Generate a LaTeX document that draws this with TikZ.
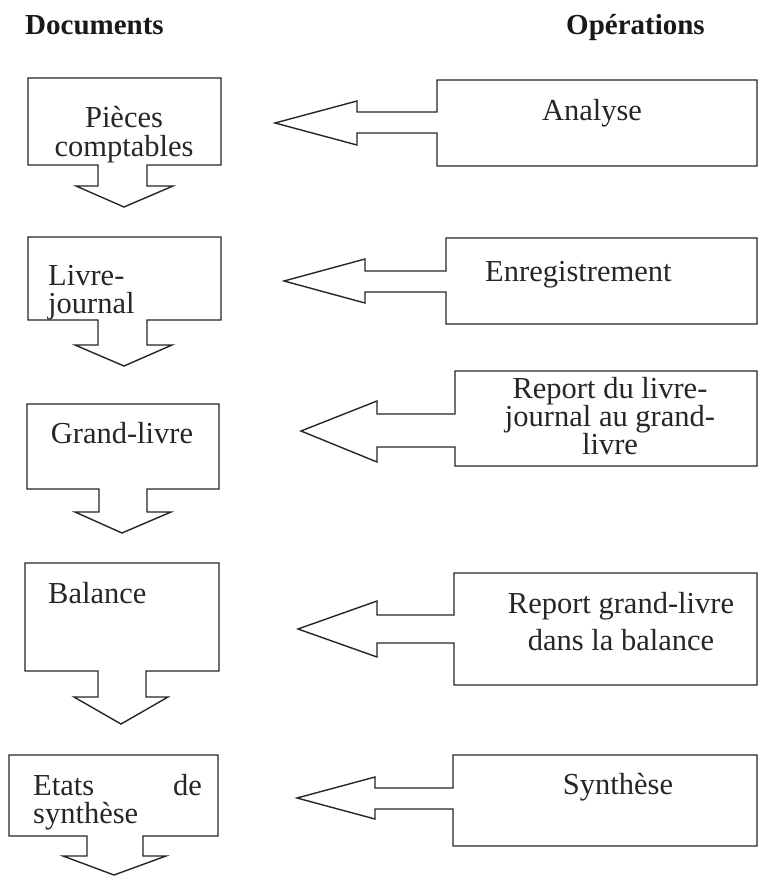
\documentclass[tikz,border=0pt]{standalone}
\usepackage{fontspec}
\setmainfont{Liberation Serif}
\begin{document}
\begin{tikzpicture}[x=1pt,y=-1pt,
  outline/.style={line width=1.4pt, draw=black!85, line join=miter},
  txt/.style={inner sep=0pt, font=\fontsize{30.5}{28.5}\selectfont, text=black!85},
  head/.style={inner sep=0pt, font=\fontsize{29}{32}\selectfont\bfseries, text=black!90}]
\useasboundingbox (0,0) rectangle (760,885);
\fill[white] (0,0) rectangle (760,885);

% column headings
\node[head, anchor=base west] (hdoc) at (25,35) {Documents};
\node[head, anchor=base west] (hop) at (566,35) {Opérations};

% documents: boxes with a downward arrow below
\draw[outline] (28,78) -- (221,78) -- (221,165) -- (147,165) -- (147,186) -- (173,186)
  -- (124,207) -- (76,186) -- (98,186) -- (98,165) -- (28,165) -- cycle;
\draw[outline] (28,237) -- (221,237) -- (221,320) -- (147,320) -- (147,345) -- (172,345)
  -- (124,366) -- (75,345) -- (98,345) -- (98,320) -- (28,320) -- cycle;
\draw[outline] (27,404) -- (219,404) -- (219,489) -- (147,489) -- (147,512) -- (171,512)
  -- (122,533) -- (75,512) -- (99,512) -- (99,489) -- (27,489) -- cycle;
\draw[outline] (25,563) -- (219,563) -- (219,671) -- (146,671) -- (146,697) -- (168,697)
  -- (121,724) -- (74,697) -- (98,697) -- (98,671) -- (25,671) -- cycle;
\draw[outline] (9,755) -- (218,755) -- (218,836) -- (143,836) -- (143,856) -- (166,856)
  -- (114,875) -- (63,856) -- (87,856) -- (87,836) -- (9,836) -- cycle;

% operations: boxes with a leftward arrow
\draw[outline] (437,80) -- (757,80) -- (757,166) -- (437,166) -- (437,133) -- (357,133)
  -- (357,145) -- (275,123) -- (357,101) -- (357,112) -- (437,112) -- cycle;
\draw[outline] (446,238) -- (757,238) -- (757,324) -- (446,324) -- (446,292) -- (365,292)
  -- (365,303) -- (284,281) -- (365,259) -- (365,271) -- (446,271) -- cycle;
\draw[outline] (455,371) -- (757,371) -- (757,466) -- (455,466) -- (455,447) -- (377,447)
  -- (377,462) -- (301,431) -- (377,401) -- (377,414) -- (455,414) -- cycle;
\draw[outline] (454,573) -- (757,573) -- (757,685) -- (454,685) -- (454,643) -- (377,643)
  -- (377,657) -- (298,629) -- (377,601) -- (377,615) -- (454,615) -- cycle;
\draw[outline] (453,755) -- (757,755) -- (757,846) -- (453,846) -- (453,809) -- (375,809)
  -- (375,819) -- (297,798) -- (375,777) -- (375,788) -- (453,788) -- cycle;

% document labels
\node[txt, anchor=base] (d1a) at (124,128) {Pièces};
\node[txt, anchor=base] (d1b) at (124,157) {comptables};
\node[txt, anchor=base west] (d2a) at (48,285) {Livre-};
\node[txt, anchor=base west] (d2b) at (48,313) {journal};
\node[txt, anchor=base] (d3) at (122,443) {Grand-livre};
\node[txt, anchor=base west] (d4) at (48,603) {Balance};
\node[txt, anchor=base west] (d5a) at (33,795) {Etats};
\node[txt, anchor=base east] (d5b) at (202,795) {de};
\node[txt, anchor=base west] (d5c) at (33,823) {synthèse};

% operation labels
\node[txt, anchor=base] (o1) at (592,121) {Analyse};
\node[txt, anchor=base west] (o2) at (485,281) {Enregistrement};
\node[txt, anchor=base] (o3a) at (610,398) {Report du livre-};
\node[txt, anchor=base] (o3b) at (610,426) {journal au grand-};
\node[txt, anchor=base] (o3c) at (610,454) {livre};
\node[txt, anchor=base] (o4a) at (621,613) {Report grand-livre};
\node[txt, anchor=base] (o4b) at (621,650) {dans la balance};
\node[txt, anchor=base] (o5) at (618,794) {Synthèse};
\end{tikzpicture}
\end{document}
